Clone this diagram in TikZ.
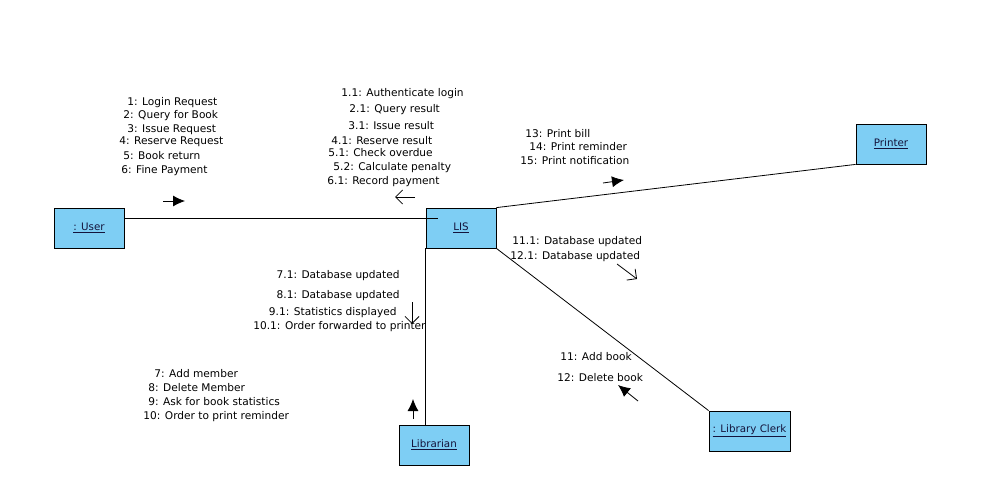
\documentclass[tikz,border=0pt]{standalone}
\usepackage{fontspec}
\setmainfont{DejaVu Sans}
\usetikzlibrary{arrows.meta,positioning}
\definecolor{objblue}{RGB}{126,206,244}
\definecolor{objtext}{RGB}{20,20,60}
\tikzset{
  every path/.style={line width=0.8pt},
  obj/.style={draw, fill=objblue, minimum width=70pt, minimum height=40pt, inner sep=0pt,
    text=objtext, font=\fontsize{10.3}{12}\selectfont},
  msg/.style={anchor=west, inner sep=0pt, yshift=-1pt, font=\fontsize{10.6}{12}\selectfont},
  msgr/.style={anchor=east, inner sep=0pt, yshift=-1pt, font=\fontsize{10.6}{12}\selectfont},
  sendarrow/.style={-{Latex[length=12pt,width=11pt]}},
  replyarrow/.style={-{Straight Barb[length=7pt,width=14pt]}}
}
\begin{document}
\begin{tikzpicture}[x=1pt, y=-1pt]
  \useasboundingbox (0,0) rectangle (995,492);

  \node[obj] (user) at (89,228) {\underline{: User}};
  \node[obj] (lis) at (461,228) {\underline{LIS}};
  \node[obj] (printer) at (891,144) {\underline{Printer}};
  \node[obj] (librarian) at (434,445) {\underline{Librarian}};
  \node[obj, minimum width=81pt] (clerk) at (749.5,431) {\underline{: Library Clerk}};

  \draw ([yshift=10pt]user.east) -- ([xshift=12pt,yshift=10pt]lis.west);
  \draw (lis.north east) -- (printer.south west);
  \draw (lis.south east) -- (clerk.north west);
  \draw (lis.south west) -- (lis.south west |- librarian.north);

  \node[msg] (m1) at (127,102) {1: Login Request};
  \node[msg] (m2) at (123,115) {2: Query for Book};
  \node[msg] (m3) at (127,129) {3: Issue Request};
  \node[msg] (m4) at (119,141) {4: Reserve Request};
  \node[msg] (m5) at (123,155) {5: Book return};
  \node[msg] (m6) at (121,170) {6: Fine Payment};
  \draw[sendarrow] (163,201) -- (185,201);

  \node[msg] (r1) at (341,93) {1.1: Authenticate login};
  \node[msg] (r2) at (349,109) {2.1: Query result};
  \node[msg] (r3) at (348,125) {3.1: Issue result};
  \node[msg] (r4) at (331,140) {4.1: Reserve result};
  \node[msg] (r5) at (328,152) {5.1: Check overdue};
  \node[msg] (r6) at (333,167) {5.2: Calculate penalty};
  \node[msg] (r7) at (327,181) {6.1: Record payment};
  \draw[replyarrow] (415,197) -- (395,197);

  \node[msg] (p1) at (525,133) {13: Print bill};
  \node[msg] (p2) at (529,146) {14: Print reminder};
  \node[msg] (p3) at (520,160) {15: Print notification};
  \draw[sendarrow] (603,183) -- (624,180);

  \node[msg] (d1) at (512,241) {11.1: Database updated};
  \node[msg] (d2) at (510,256) {12.1: Database updated};
  \draw[replyarrow] (617,264) -- (637,279);

  \node[msgr] (l1) at (400,275) {7.1: Database updated};
  \node[msgr] (l2) at (400,295) {8.1: Database updated};
  \node[msgr] (l3) at (397,312) {9.1: Statistics displayed};
  \node[msgr] (l4) at (426,326) {10.1: Order forwarded to printer};
  \draw[replyarrow] (412,302) -- (412,324);

  \node[msg] (a1) at (154,373) {7: Add member};
  \node[msg] (a2) at (148,387) {8: Delete Member};
  \node[msg] (a3) at (148,401) {9: Ask for book statistics};
  \node[msg] (a4) at (143,416) {10: Order to print reminder};
  \draw[sendarrow] (413,419) -- (413,399);

  \node[msg] (c1) at (560,356) {11: Add book};
  \node[msg] (c2) at (557,377) {12: Delete book};
  \draw[sendarrow] (638,401) -- (618,385);
\end{tikzpicture}
\end{document}
